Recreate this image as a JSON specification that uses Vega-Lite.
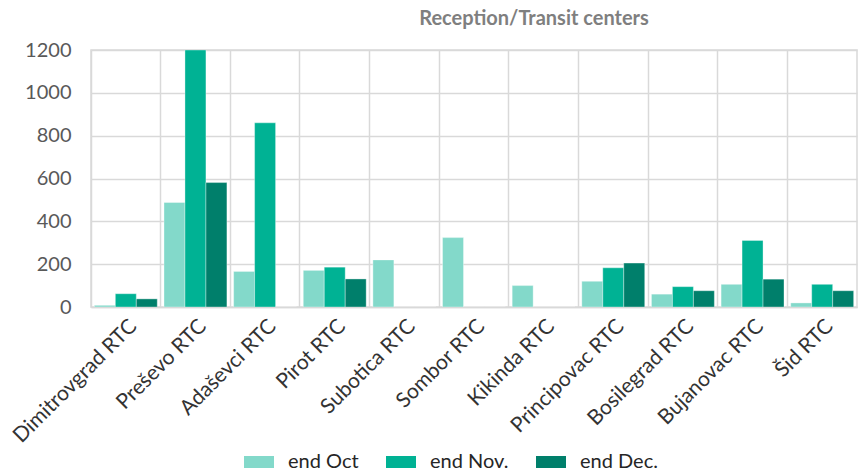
{
  "$schema": "https://vega.github.io/schema/vega-lite/v6.json",
  "width": 766,
  "height": 257,
  "autosize": {"type": "none"},
  "padding": {"left": 91, "top": 50, "right": 6, "bottom": 165},
  "background": "white",
  "title": {
    "text": "Reception/Transit centers",
    "font": "Lato",
    "fontSize": 20,
    "fontWeight": "bold",
    "color": "#7f7f7f",
    "anchor": "middle",
    "dx": 60,
    "offset": 11
  },
  "config": {
    "view": {"stroke": "#d9d9d9", "strokeWidth": 1.5},
    "font": "Lato"
  },
  "data": {
    "values": [
      {"center": "Dimitrovgrad RTC", "period": "end Oct", "value": 8},
      {"center": "Dimitrovgrad RTC", "period": "end Nov.", "value": 62},
      {"center": "Dimitrovgrad RTC", "period": "end Dec.", "value": 38},
      {"center": "Preševo RTC", "period": "end Oct", "value": 488},
      {"center": "Preševo RTC", "period": "end Nov.", "value": 1200},
      {"center": "Preševo RTC", "period": "end Dec.", "value": 581},
      {"center": "Adaševci RTC", "period": "end Oct", "value": 166},
      {"center": "Adaševci RTC", "period": "end Nov.", "value": 860},
      {"center": "Adaševci RTC", "period": "end Dec.", "value": 0},
      {"center": "Pirot RTC", "period": "end Oct", "value": 171},
      {"center": "Pirot RTC", "period": "end Nov.", "value": 186},
      {"center": "Pirot RTC", "period": "end Dec.", "value": 131},
      {"center": "Subotica RTC", "period": "end Oct", "value": 220},
      {"center": "Subotica RTC", "period": "end Nov.", "value": 0},
      {"center": "Subotica RTC", "period": "end Dec.", "value": 0},
      {"center": "Sombor RTC", "period": "end Oct", "value": 324},
      {"center": "Sombor RTC", "period": "end Nov.", "value": 0},
      {"center": "Sombor RTC", "period": "end Dec.", "value": 0},
      {"center": "Kikinda RTC", "period": "end Oct", "value": 100},
      {"center": "Kikinda RTC", "period": "end Nov.", "value": 0},
      {"center": "Kikinda RTC", "period": "end Dec.", "value": 0},
      {"center": "Principovac RTC", "period": "end Oct", "value": 120},
      {"center": "Principovac RTC", "period": "end Nov.", "value": 183},
      {"center": "Principovac RTC", "period": "end Dec.", "value": 205},
      {"center": "Bosilegrad RTC", "period": "end Oct", "value": 60},
      {"center": "Bosilegrad RTC", "period": "end Nov.", "value": 95},
      {"center": "Bosilegrad RTC", "period": "end Dec.", "value": 76},
      {"center": "Bujanovac RTC", "period": "end Oct", "value": 106},
      {"center": "Bujanovac RTC", "period": "end Nov.", "value": 311},
      {"center": "Bujanovac RTC", "period": "end Dec.", "value": 130},
      {"center": "Šid RTC", "period": "end Oct", "value": 19},
      {"center": "Šid RTC", "period": "end Nov.", "value": 106},
      {"center": "Šid RTC", "period": "end Dec.", "value": 76}
    ]
  },
  "mark": {"type": "bar", "clip": true, "stroke": "white", "strokeOpacity": 0.35, "strokeWidth": 1},
  "encoding": {
    "x": {
      "field": "center",
      "type": "nominal",
      "sort": null,
      "scale": {"paddingInner": 0, "paddingOuter": 0},
      "axis": {
        "title": null,
        "labelAngle": -45,
        "labelFont": "Lato",
        "labelFontSize": 21,
        "labelColor": "#333333",
        "labelPadding": 8,
        "ticks": false,
        "domainColor": "#d9d9d9",
        "domainWidth": 1.5,
        "grid": true,
        "gridColor": "#d9d9d9",
        "gridWidth": 1.5,
        "bandPosition": 0,
        "labelOverlap": false
      }
    },
    "xOffset": {
      "field": "period",
      "type": "nominal",
      "sort": ["end Oct", "end Nov.", "end Dec."],
      "scale": {"paddingInner": 0, "paddingOuter": 0.16}
    },
    "y": {
      "field": "value",
      "type": "quantitative",
      "scale": {"domain": [0, 1200], "nice": false},
      "axis": {
        "title": null,
        "values": [0, 200, 400, 600, 800, 1000, 1200],
        "format": "d",
        "labelFont": "Lato",
        "labelFontSize": 20,
        "labelColor": "#595959",
        "labelPadding": 20,
        "ticks": false,
        "domain": false,
        "gridColor": "#d9d9d9",
        "gridWidth": 1.5
      }
    },
    "color": {
      "field": "period",
      "type": "nominal",
      "sort": ["end Oct", "end Nov.", "end Dec."],
      "scale": {"domain": ["end Oct", "end Nov.", "end Dec."], "range": ["#83d9ca", "#00b294", "#007f6b"]},
      "legend": {
        "title": null,
        "orient": "none",
        "direction": "horizontal",
        "legendX": 158,
        "legendY": 402,
        "symbolType": "M-1.5,-0.6H1.5V0.6H-1.5Z",
        "symbolSize": 400,
        "symbolStrokeWidth": 0,
        "symbolOpacity": 1,
        "labelFont": "Lato",
        "labelFontSize": 20,
        "labelColor": "#262626",
        "labelOffset": 19,
        "columnPadding": 27
      }
    }
  }
}
